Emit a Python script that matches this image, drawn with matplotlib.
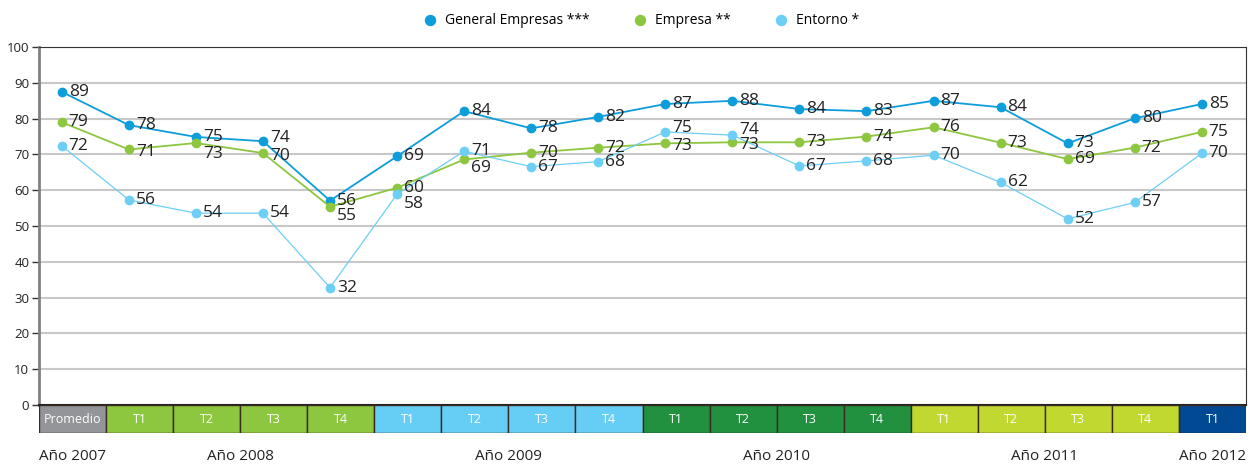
import matplotlib
matplotlib.use('Agg')
import matplotlib.pyplot as plt
import numpy as np

plt.rcParams['font.family'] = ['Open Sans', 'DejaVu Sans']

# Data
cells = ['Promedio', 'T1', 'T2', 'T3', 'T4', 'T1', 'T2', 'T3', 'T4',
         'T1', 'T2', 'T3', 'T4', 'T1', 'T2', 'T3', 'T4', 'T1']
cell_years = [2007, 2008, 2008, 2008, 2008, 2009, 2009, 2009, 2009,
              2010, 2010, 2010, 2010, 2011, 2011, 2011, 2011, 2012]
years = ['Año 2007', 'Año 2008', 'Año 2009', 'Año 2010', 'Año 2011', 'Año 2012']

# plotted values (as drawn) and printed labels
general = [87.5, 78.2, 74.9, 73.7, 57.1, 69.5, 82.1, 77.3, 80.5,
           84.1, 85.0, 82.7, 82.1, 85.0, 83.2, 73.1, 80.1, 84.1]
general_lbl = [89, 78, 75, 74, 56, 69, 84, 78, 82, 87, 88, 84, 83, 87, 84, 73, 80, 85]
empresa = [79.0, 71.4, 73.2, 70.4, 55.4, 60.7, 68.6, 70.5, 71.9,
           73.1, 73.4, 73.4, 75.0, 77.6, 73.3, 68.7, 71.9, 76.3]
empresa_lbl = [79, 71, 73, 70, 55, 60, 69, 70, 72, 73, 73, 73, 74, 76, 73, 69, 72, 75]
entorno = [72.4, 57.3, 53.6, 53.6, 32.8, 58.9, 70.9, 66.6, 68.0,
           76.3, 75.4, 66.8, 68.2, 69.8, 62.2, 52.0, 56.6, 70.3]
entorno_lbl = [72, 56, 54, 54, 32, 58, 71, 67, 68, 75, 74, 67, 68, 70, 62, 52, 57, 70]

c_general = '#0d9ddb'
c_empresa = '#8dc63f'
c_entorno = '#6dcff6'
year_colors = {2007: '#939598', 2008: '#8dc63f', 2009: '#66cef4',
               2010: '#21913f', 2011: '#c1d831', 2012: '#014a93'}

fig = plt.figure(figsize=(12.5, 4.66), dpi=100)
ax = fig.add_axes([0.0312, 0.1309, 0.9656, 0.768])

x = np.arange(len(cells)) + 0.34

for yv in range(10, 101, 10):
    ax.axhline(yv, color='#c8c8c8', lw=1.5, zorder=1)

series = [
    ('General Empresas ***', general, general_lbl, c_general, 1.3),
    ('Empresa **', empresa, empresa_lbl, c_empresa, 1.3),
    ('Entorno *', entorno, entorno_lbl, c_entorno, 0.9),
]
# label vertical nudges (points) for crowded spots
nudges = {
    ('Empresa **', 2): -8, ('Empresa **', 4): -7, ('Entorno *', 5): -7,
    ('Empresa **', 6): -6, ('Entorno *', 9): 3, ('Entorno *', 10): 4,
    ('Empresa **', 1): -2, ('Empresa **', 9): -2, ('Empresa **', 10): -2,
    ('General Empresas ***', 3): 2, ('Empresa **', 3): -2,
}
for name, vals, lbls, col, lw in series:
    ax.plot(x, vals, color=col, lw=lw, marker='o', markersize=6, zorder=3,
            label=name)
    for i, (xv, yv, lb) in enumerate(zip(x, vals, lbls)):
        dy = nudges.get((name, i), 0)
        ax.annotate(str(lb), (xv, yv), xytext=(5, dy), textcoords='offset points',
                    ha='left', va='center', fontsize=12.5, color='#222222', zorder=4)

ax.set_xlim(0, len(cells))
ax.set_ylim(0, 100)
ax.set_yticks(range(0, 101, 10))
ax.set_xticks([])
ax.tick_params(axis='y', length=5, width=1, color='#333333', labelsize=9.5,
               labelcolor='#222222', pad=2)
ax.spines['left'].set_color('#808080')
ax.spines['left'].set_linewidth(2)
ax.spines['bottom'].set_color('#222222')
ax.spines['bottom'].set_linewidth(1.5)
for s in ['top', 'right']:
    ax.spines[s].set_color('#333333')
    ax.spines[s].set_linewidth(0.8)

# category strip under the chart
ax2 = fig.add_axes([0.0312, 0.0708, 0.9656, 0.0601])
ax2.bar(np.arange(len(cells)), 1, width=1, align='edge',
        color=[year_colors[y] for y in cell_years], edgecolor='#3a2a20', linewidth=1)
for i, c in enumerate(cells):
    ax2.text(i + 0.5, 0.5, c, ha='center', va='center', color='white', fontsize=9)
ax2.set_xlim(0, len(cells))
ax2.set_ylim(0, 1)
ax2.axis('off')

year_pos = [(0, 'left'), (3, 'center'), (7, 'center'), (11, 'center'),
            (15, 'center'), (18, 'right')]
for (xp, ha), yl in zip(year_pos, years):
    ax2.text(xp, -0.85, yl, ha=ha, va='center', fontsize=11, color='#222222')

fig.legend(loc='center', bbox_to_anchor=(0.513, 0.955), ncol=3, frameon=False,
           fontsize=10, handlelength=1, handletextpad=0.6, columnspacing=3.1,
           markerscale=1.2)
leg = fig.legends[0]
for h in leg.legend_handles:
    h.set_linestyle('None')

fig.savefig('out.png', dpi=100)
